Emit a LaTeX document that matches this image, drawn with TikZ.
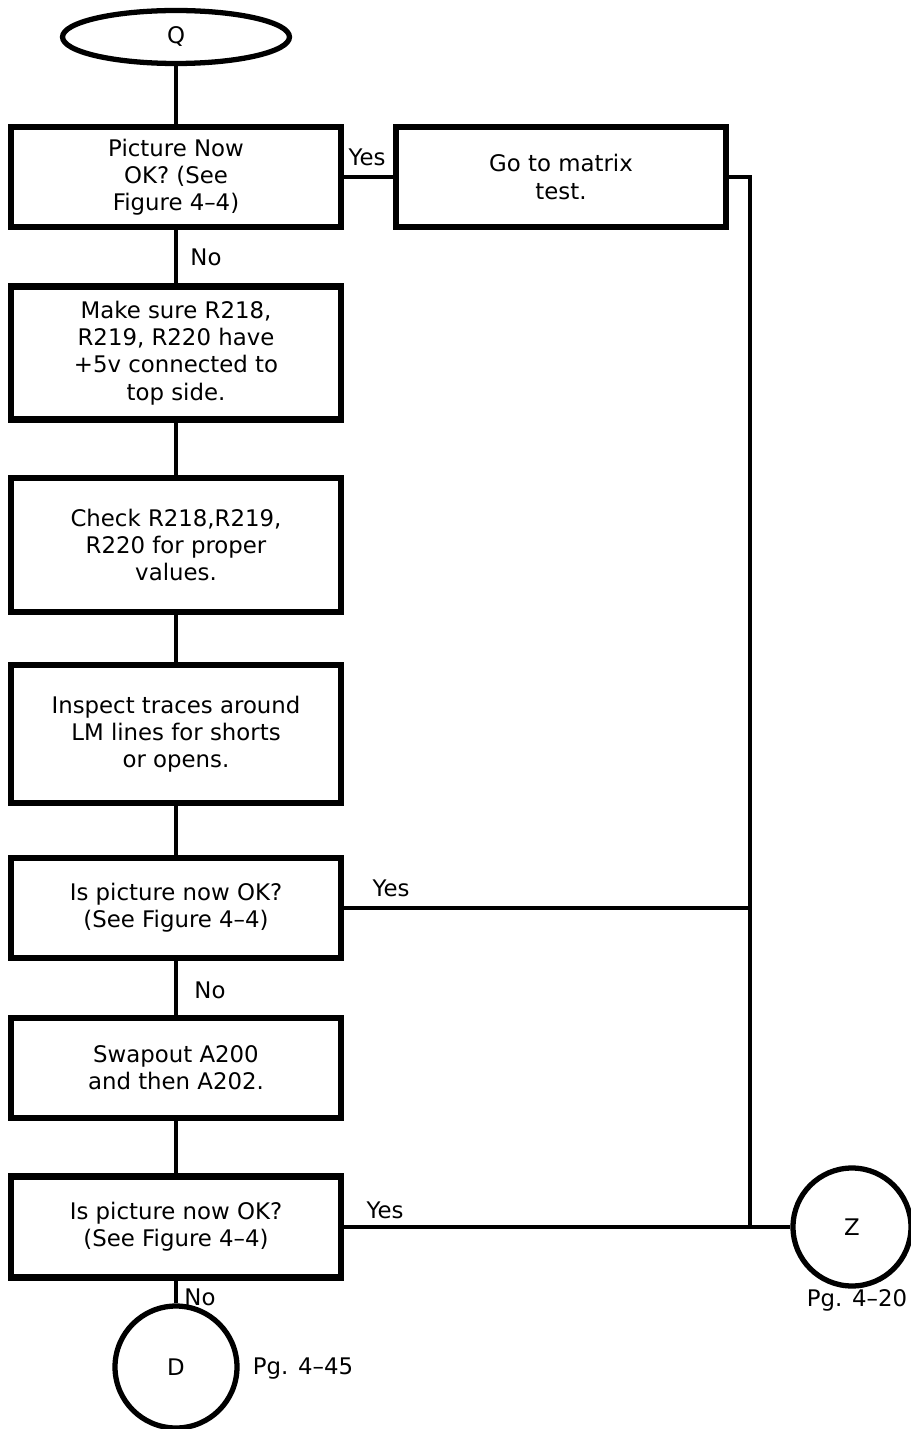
\documentclass[tikz,border=0pt]{standalone}
\usepackage{fontspec}
\setmainfont{DejaVu Sans}
\usetikzlibrary{shapes.geometric}

\begin{document}
\begin{tikzpicture}[x=0.02cm, y=-0.02cm,
	every node/.style={font=\fontsize{13}{15.5}\selectfont},
	box/.style={draw, line width=3.6pt, rectangle, align=center, minimum width=6.6cm},
	term/.style={draw, line width=3pt, ellipse, minimum width=4.54cm, minimum height=1.06cm, inner sep=0pt},
	conn/.style={draw, line width=3pt, circle, inner sep=0pt},
	line/.style={line width=2pt}]
	\useasboundingbox (0,0) rectangle (910,1429);
	\node[term] (Q) at (176,37) {Q};
	\node[box, minimum height=2.0cm] (pic1) at (176,177) {Picture Now\\OK? (See\\Figure 4--4)};
	\node[box, minimum height=2.0cm] (matrix) at (561,177) {Go to matrix\\test.};
	\node[box, minimum height=2.66cm] (supply) at (176,353) {Make sure R218,\\R219, R220 have\\+5v connected to\\top side.};
	\node[box, minimum height=2.68cm] (values) at (176,545) {Check R218,R219,\\R220 for proper\\values.};
	\node[box, minimum height=2.76cm] (traces) at (176,734) {Inspect traces around\\LM lines for shorts\\or opens.};
	\node[box, minimum height=2.0cm] (pic2) at (176,908) {Is picture now OK?\\(See Figure 4--4)};
	\node[box, minimum height=2.0cm] (swap) at (176,1068) {Swapout A200\\and then A202.};
	\node[box, minimum height=2.02cm] (pic3) at (176,1227) {Is picture now OK?\\(See Figure 4--4)};
	\node[conn, minimum size=2.44cm] (D) at (176,1367) {D};
	\node[conn, minimum size=2.36cm] (Z) at (852,1227) {Z};
	\coordinate (j1) at (750,908);
	\coordinate (j2) at (750,1227);
	% main column
	\draw[line] (Q) -- (pic1);
	\draw[line] (pic1) -- (supply);
	\draw[line] (supply) -- (values);
	\draw[line] (values) -- (traces);
	\draw[line] (traces) -- (pic2);
	\draw[line] (pic2) -- (swap);
	\draw[line] (swap) -- (pic3);
	\draw[line] (pic3) -- (D);
	% yes branches
	\draw[line] (pic1) -- (matrix);
	\draw[line] (matrix.east) -| (j2) -- (Z);
	\draw[line] (pic2.east) -- (j1);
	\draw[line] (pic3) -- (j2);
	\node (yes1) at (367,157) {Yes};
	\node (no1) at (206,257) {No};
	\node (yes2) at (391,888) {Yes};
	\node (no2) at (210,990) {No};
	\node (yes3) at (385,1210) {Yes};
	\node (no3) at (200,1297) {No};
	\node (pgD) at (303,1369) {Pg. 4--45};
	\node (pgZ) at (857,1300) {Pg. 4--20};
\end{tikzpicture}
\end{document}
